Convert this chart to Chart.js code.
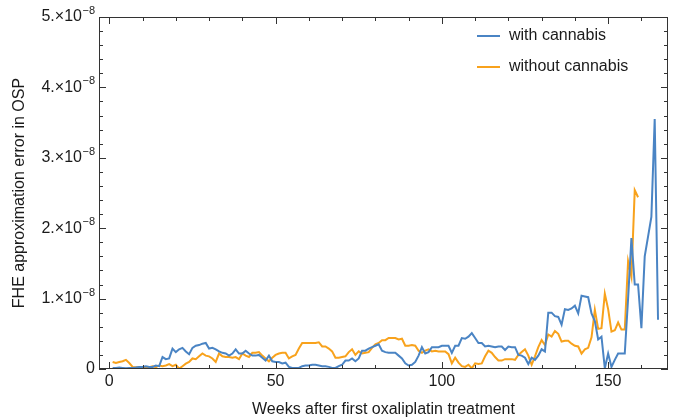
<!DOCTYPE html>
<html>
<head>
<meta charset="utf-8">
<script src="https://cdn.jsdelivr.net/npm/chart.js@4.4.1/dist/chart.umd.min.js"></script>
<style>
  body { margin: 0; background: #fff; }
</style>
</head>
<body>
<canvas id="MyChart" width="677" height="419"></canvas>
<script>
// values are in units of 1e-8 (axis labels add the ×10^-8)
var weeksWith = [];
var withCannabis = [
  0.015, 0.015, 0.02, 0.015, 0.01, 0.015, 0.015, 0.02, 0.03, 0.03,
  0.04, 0.03, 0.03, 0.05, 0.04, 0.17, 0.14, 0.15, 0.29, 0.24,
  0.28, 0.30, 0.25, 0.21, 0.30, 0.33, 0.34, 0.36, 0.37, 0.29,
  0.30, 0.28, 0.25, 0.23, 0.22, 0.19, 0.22, 0.28, 0.22, 0.22,
  0.26, 0.22, 0.19, 0.19, 0.20, 0.16, 0.12, 0.19, 0.11, 0.10,
  0.10, 0.08, 0.09, 0.03, 0.015, 0.015, 0.015, 0.04, 0.05, 0.05,
  0.06, 0.06, 0.05, 0.04, 0.04, 0.03, 0.015, 0.015, 0.04, 0.06,
  0.12, 0.12, 0.15, 0.11, 0.15, 0.26, 0.26, 0.29, 0.31, 0.33,
  0.35, 0.26, 0.24, 0.23, 0.23, 0.23, 0.19, 0.15, 0.08, 0.05,
  0.06, 0.10, 0.19, 0.31, 0.22, 0.24, 0.31, 0.31, 0.31, 0.33,
  0.33, 0.33, 0.23, 0.33, 0.33, 0.44, 0.43, 0.46, 0.51, 0.44,
  0.37, 0.37, 0.32, 0.33, 0.32, 0.31, 0.32, 0.32, 0.27, 0.32,
  0.31, 0.31, 0.20, 0.19, 0.16, 0.07, 0.16, 0.13, 0.19, 0.28,
  0.25, 0.80, 0.80, 0.75, 0.74, 0.63, 0.85, 0.84, 0.86, 0.90,
  0.79, 1.04, 1.03, 1.02, 0.79, 0.68, 0.42, 0.46, 0.01, 0.22,
  0.03, 0.13, 0.22, 0.22, 0.22, 1.00, 1.86, 1.20, 1.20, 0.58,
  1.60, 1.88, 2.16, 3.55, 0.70
];
var weeksWithout = [];
var withoutCannabis = [
  0.10, 0.085, 0.10, 0.11, 0.13, 0.085, 0.03, 0.025, 0.025, 0.025,
  0.015, 0.025, 0.04, 0.025, 0.05, 0.04, 0.05, 0.07, 0.04, 0.06,
  0.005, 0.04, 0.075, 0.10, 0.15, 0.14, 0.18, 0.22, 0.19, 0.18,
  0.15, 0.10, 0.22, 0.18, 0.17, 0.17, 0.16, 0.17, 0.14, 0.22,
  0.19, 0.17, 0.23, 0.23, 0.24, 0.19, 0.15, 0.11, 0.16, 0.20,
  0.22, 0.23, 0.23, 0.15, 0.18, 0.20, 0.29, 0.37, 0.37, 0.37,
  0.37, 0.37, 0.38, 0.32, 0.32, 0.29, 0.25, 0.16, 0.16, 0.17,
  0.18, 0.24, 0.28, 0.20, 0.25, 0.22, 0.23, 0.24, 0.30, 0.35,
  0.37, 0.41, 0.41, 0.44, 0.44, 0.44, 0.42, 0.43, 0.33, 0.33,
  0.34, 0.33, 0.26, 0.23, 0.26, 0.28, 0.25, 0.26, 0.25, 0.25,
  0.25, 0.21, 0.08, 0.16, 0.09, 0.04, 0.03, 0.06, 0.01, 0.08,
  0.07, 0.08, 0.18, 0.26, 0.23, 0.17, 0.12, 0.12, 0.14, 0.14,
  0.14, 0.13, 0.20, 0.24, 0.28, 0.19, 0.06, 0.18, 0.31, 0.41,
  0.34, 0.49, 0.46, 0.54, 0.50, 0.39, 0.40, 0.40, 0.36, 0.33,
  0.32, 0.22, 0.28, 0.30, 0.45, 0.84, 0.57, 0.58, 1.07, 0.85,
  0.53, 0.55, 0.66, 0.56, 0.56, 1.53, 1.31, 2.54, 2.44
];
for (var i = 0; i < withCannabis.length; i++) weeksWith.push(i + 1);
for (var i = 0; i < withoutCannabis.length; i++) weeksWithout.push(i + 1);

var xTicks = [0, 50, 100, 150];
var yTicks = [0, 1, 2, 3, 4, 5];
var seriesNames = ["with cannabis", "without cannabis"];
var barvy = ["#4a84c4", "#f8a21c"];
var pismo = "'Liberation Sans', Arial, sans-serif";

function body(xs, ys) {
  return ys.map(function (v, i) { return { x: xs[i], y: v }; });
}

// frame, inside ticks, y labels with exponent, legend
var ramecek = {
  id: "ramecek",
  afterDraw: function (chart) {
    var ctx = chart.ctx;
    var a = chart.chartArea;
    var sx = chart.scales.x;
    var sy = chart.scales.y;
    ctx.save();
    ctx.strokeStyle = "#333";
    ctx.lineWidth = 1;
    ctx.strokeRect(a.left + 0.5, a.top + 0.5, a.right - a.left - 1, a.bottom - a.top - 1);

    ctx.beginPath();
    for (var w = 0; w <= 160; w += 10) {
      var px = Math.round(sx.getPixelForValue(w)) + 0.5;
      var d = w % 50 == 0 ? 7 : 4;
      ctx.moveTo(px, a.bottom); ctx.lineTo(px, a.bottom - d);
      ctx.moveTo(px, a.top); ctx.lineTo(px, a.top + d);
    }
    for (var k = 0; k <= 25; k++) {
      var v = k * 0.2;
      var py = Math.round(sy.getPixelForValue(v)) + 0.5;
      var d2 = k % 5 == 0 ? 7 : 4;
      ctx.moveTo(a.left, py); ctx.lineTo(a.left + d2, py);
      ctx.moveTo(a.right, py); ctx.lineTo(a.right - d2, py);
    }
    ctx.stroke();

    // y tick labels
    ctx.fillStyle = "#1a1a1a";
    ctx.textBaseline = "middle";
    ctx.textAlign = "right";
    yTicks.forEach(function (v) {
      var py = sy.getPixelForValue(v);
      var xr = a.left - 4;
      if (v == 0) {
        ctx.font = "16px " + pismo;
        ctx.fillText("0", xr, py);
        return;
      }
      ctx.font = "11px " + pismo;
      var exp = "\u22128";
      var we = ctx.measureText(exp).width;
      ctx.fillText(exp, xr, py - 6);
      ctx.font = "16px " + pismo;
      ctx.fillText(v + ".\u00d710", xr - we - 0.5, py);
    });

    // legend
    ctx.textAlign = "left";
    ctx.font = "16px " + pismo;
    chart.data.datasets.forEach(function (ds, i) {
      var ly = 36 + i * 31;
      ctx.strokeStyle = ds.borderColor;
      ctx.lineWidth = 2;
      ctx.beginPath();
      ctx.moveTo(477, ly); ctx.lineTo(500, ly);
      ctx.stroke();
      ctx.fillStyle = "#1a1a1a";
      ctx.fillText(ds.label, 509, ly);
    });
    ctx.restore();
  }
};

var graf = document.getElementById("MyChart").getContext("2d");
var SF = new Chart(graf, {
  type: "line",
  data: {
    datasets: [
      {
        label: seriesNames[0],
        data: body(weeksWith, withCannabis),
        borderColor: barvy[0],
        borderWidth: 2,
        pointRadius: 0,
        fill: false
      },
      {
        label: seriesNames[1],
        data: body(weeksWithout, withoutCannabis),
        borderColor: barvy[1],
        borderWidth: 2,
        pointRadius: 0,
        fill: false
      }
    ]
  },
  options: {
    responsive: false,
    animation: false,
    layout: { padding: { top: 17, right: 9, left: 0, bottom: 0 } },
    plugins: { legend: { display: false }, tooltip: { enabled: false } },
    scales: {
      x: {
        type: "linear",
        min: -3.1,
        max: 168,
        grid: { display: false, drawTicks: false },
        border: { display: false },
        afterBuildTicks: function (s) {
          s.ticks = xTicks.map(function (v) { return { value: v }; });
        },
        ticks: { font: { family: pismo, size: 16 }, color: "#1a1a1a", padding: 3, maxRotation: 0, autoSkip: false },
        title: {
          display: true,
          text: "Weeks after first oxaliplatin treatment",
          font: { family: pismo, size: 16 },
          color: "#1a1a1a",
          padding: { top: 2, bottom: 0 }
        },
        afterFit: function (s) { s.height = 50; }
      },
      y: {
        min: 0,
        max: 5,
        grid: { display: false },
        border: { display: false },
        ticks: { display: false },
        title: {
          display: true,
          text: "FHE approximation error in OSP",
          font: { family: pismo, size: 16 },
          color: "#1a1a1a",
          padding: { top: 10, bottom: 0 }
        },
        afterFit: function (s) { s.width = 99; }
      }
    }
  },
  plugins: [ramecek]
});
</script>
</body>
</html>
